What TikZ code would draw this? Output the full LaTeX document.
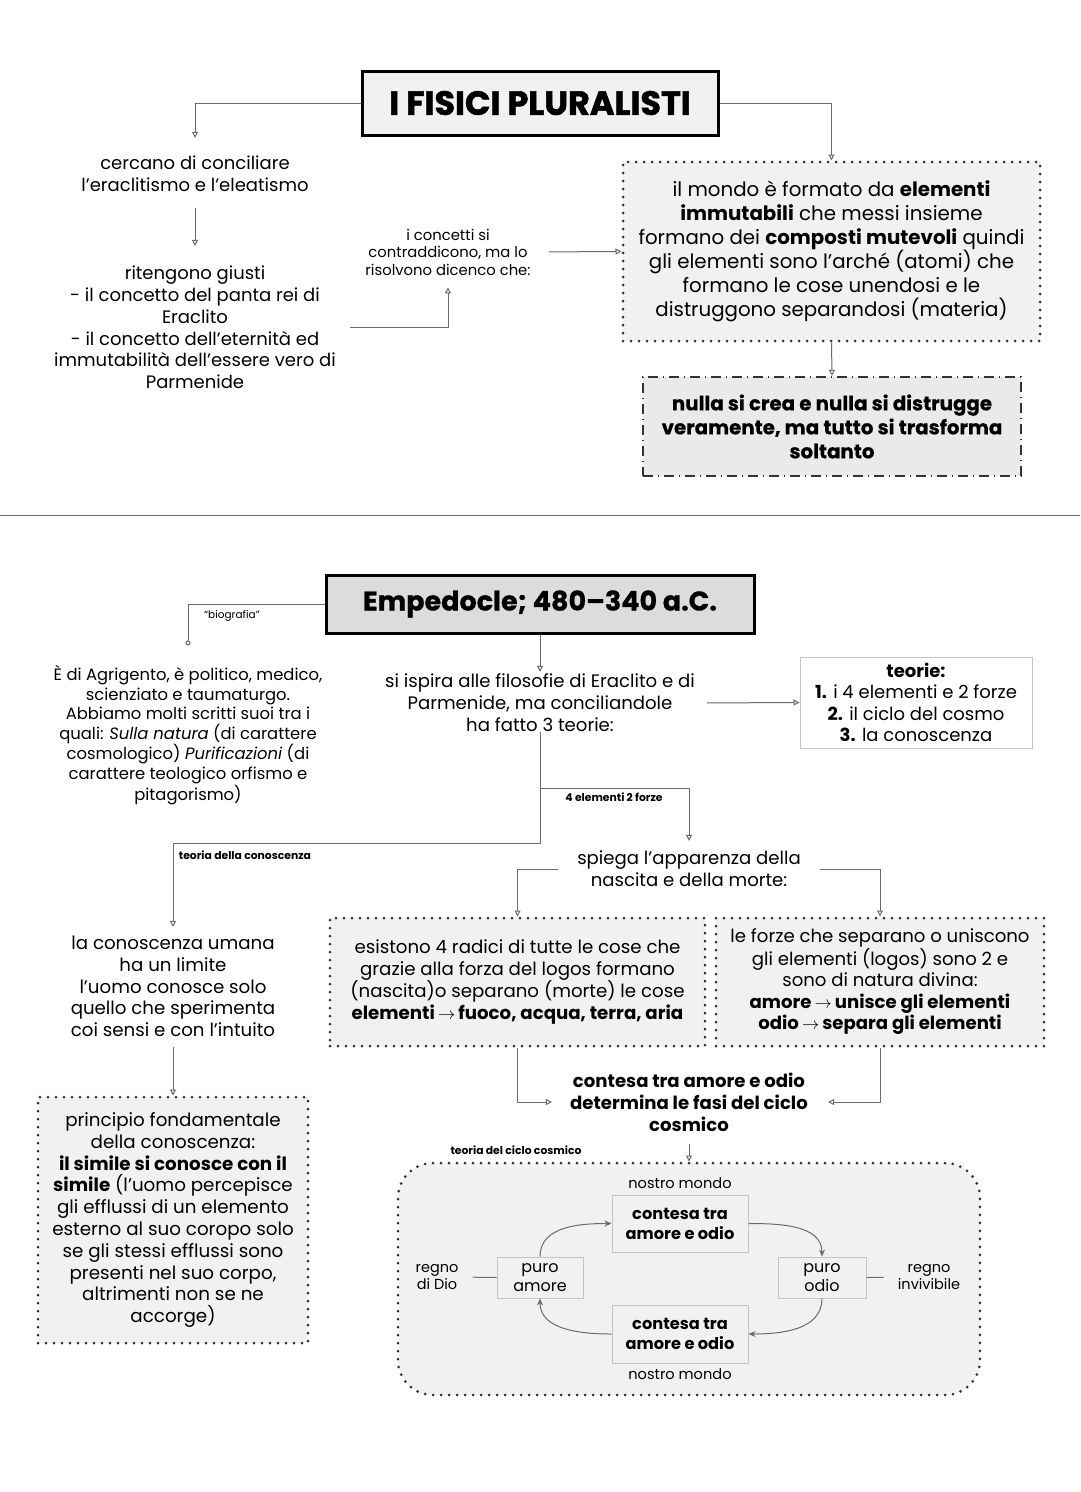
\documentclass[tikz,border=0pt]{standalone}
\usepackage{fontspec}
\setmainfont{Poppins}
\usetikzlibrary{arrows.meta,calc}
\definecolor{lg}{HTML}{6B6B6B}
\definecolor{boxfill}{HTML}{F1F1F1}
\definecolor{tfill}{HTML}{DCDCDC}
\definecolor{dotc}{HTML}{333333}
\definecolor{thin}{HTML}{C4C4C4}
\newcommand\myfs[2]{\fontsize{#1}{#2}\selectfont}
\newcommand\myto{\,$\rightarrow$\,}
\tikzset{
  txt/.style={align=center, inner sep=0pt, font=\myfs{18}{22}},
  ln/.style={draw=lg, line width=1pt},
  arr/.style={ln, -{Triangle[open,length=6pt,width=6pt]}},
  carr/.style={ln, -{Stealth[length=7pt,width=6pt]}},
  lbl/.style={inner sep=0pt, font=\bfseries\myfs{10.8}{12}},
  titlebox/.style={draw=black, line width=3pt, align=center, inner sep=0pt},
  dotbox/.style={draw=dotc, line width=3pt, dash pattern=on 0pt off 8pt, line cap=round, fill=boxfill, align=center, inner sep=0pt},
  dashdotbox/.style={draw=dotc, line width=2.2pt, dash pattern=on 10pt off 5pt on 1pt off 5pt, fill=boxfill, align=center, inner sep=0pt},
  thinbox/.style={draw=thin, line width=1pt, fill=boxfill, align=center, inner sep=0pt},
}
\begin{document}
\begin{tikzpicture}[x=1pt,y=-1pt]
\useasboundingbox[fill=white] (0,0) rectangle (1080,1492);

% ---------- top section ----------
\node[titlebox, fill=boxfill, minimum width=356, minimum height=64, font=\bfseries\myfs{33.5}{36}\addfontfeature{FakeBold=1.6}] (t1) at (540,103) {I FISICI PLURALISTI};

\node[txt, font=\myfs{18}{22}] (c1) at (195,174) {cercano di conciliare\\l’eraclitismo e l’eleatismo};

\node[txt, font=\myfs{18}{21.8}] (r1) at (195,327.5) {ritengono giusti\\- il concetto del panta rei di\\Eraclito\\- il concetto dell'eternità ed\\immutabilità dell’essere vero di\\Parmenide};

\node[txt, font=\myfs{14.8}{17.5}] (k1) at (448,252) {i concetti si\\contraddicono, ma lo\\risolvono dicenco che:};

\node[dotbox, minimum width=417, minimum height=179, font=\myfs{19.8}{24}] (m1) at (831.5,251.5) {il mondo è formato da \textbf{elementi}\\\textbf{immutabili} che messi insieme\\formano dei \textbf{composti mutevoli} quindi\\gli elementi sono l’arché (atomi) che\\formano le cose unendosi e le\\distruggono separandosi (materia)};

\node[dashdotbox, fill=boxfill!97!black, minimum width=378, minimum height=99, font=\bfseries\myfs{19.8}{24}\addfontfeature{FakeBold=0.4}] (n1) at (832,426.5) {nulla si crea e nulla si distrugge\\veramente, ma tutto si trasforma\\soltanto};

\draw[arr] (t1.west) -| (c1.north) [shorten >=18pt];
\draw[arr, shorten <=16pt, shorten >=20pt] (c1.south) -- (r1.north);
\draw[arr, shorten <=14pt, shorten >=12pt] (r1.east) -| (k1.south);
\draw[arr, shorten <=18pt] (k1.east) -- (m1.west);
\draw[arr] (t1.east) -| (m1.north);
\draw[arr] (m1.south) -- (n1.north);

% separator
\draw[lg, line width=1pt] (0,515) -- (1080,515);

% ---------- bottom section ----------
\node[titlebox, fill=tfill, minimum width=428, minimum height=58, font=\bfseries\myfs{27}{32}\addfontfeature{FakeBold=0.8}] (t2) at (540,604) {Empedocle; 480–340 a.C.};

\node[txt, font=\myfs{16.4}{19.5}] (bio) at (188,735) {È di Agrigento, è politico, medico,\\scienziato e taumaturgo.\\Abbiamo molti scritti suoi tra i\\quali: \textit{Sulla natura} (di carattere\\cosmologico) \textit{Purificazioni} (di\\carattere teologico orfismo e\\pitagorismo)};

\draw[ln, -{Circle[open,length=5pt]}, shorten >=20pt] (t2.west) -| (bio.north);
\node[lbl, font=\myfs{10.5}{12}] (lb1) at (232,616) {“biografia”};

\node[txt, font=\myfs{18.1}{22}] (s1) at (540,703) {si ispira alle filosofie di Eraclito e di\\Parmenide, ma conciliandole\\ha fatto 3 teorie:};
\draw[arr, shorten >=2pt] (t2.south) -- (s1.north);

\node[draw=thin, line width=1pt, fill=white, align=center, inner sep=0pt, minimum width=232, minimum height=91, font=\myfs{18}{21.5}] (th) at (916,702.5) {\textbf{teorie:}\\\textbf{1.} i 4 elementi e 2 forze\\\textbf{2.} il ciclo del cosmo\\\textbf{3.} la conoscenza};
\draw[arr, shorten <=12pt] (s1.east) -- (th.west);

\node[txt, font=\myfs{18.1}{22}] (sp) at (689,869) {spiega l’apparenza della\\nascita e della morte:};
\node[txt, font=\myfs{18.2}{21.8}] (kn) at (173,986.5) {la conoscenza umana\\ha un limite\\l’uomo conosce solo\\quello che sperimenta\\coi sensi e con l’intuito};

\draw[arr, shorten >=10pt] (s1.south) -- (540,788) -| (sp.north);
\node[lbl] (lb2) at (614,797) {4 elementi 2 forze};
\draw[arr, shorten >=9pt] (s1.south) -- (540,843) -| (kn.north);
\node[lbl] (lb3) at (245,855) {teoria della conoscenza};

\node[dotbox, minimum width=375, minimum height=128, font=\myfs{18.2}{21.7}] (e1) at (517.5,982) {esistono 4 radici di tutte le cose che\\grazie alla forza del logos formano\\(nascita)o separano (morte) le cose\\\textbf{elementi\myto fuoco, acqua, terra, aria}};
\node[dotbox, minimum width=328, minimum height=128, font=\myfs{18.1}{21.5}] (e2) at (880,982) {le forze che separano o uniscono\\gli elementi (logos) sono 2 e\\sono di natura divina:\\\textbf{amore\myto unisce gli elementi}\\\textbf{odio\myto separa gli elementi}};

\draw[arr, shorten <=19pt] (sp.west) -| (e1.north);
\draw[arr, shorten <=19pt] (sp.east) -| (e2.north);

\node[txt, font=\bfseries\myfs{18.1}{22}] (ca) at (689,1102) {contesa tra amore e odio\\determina le fasi del ciclo\\cosmico};
\draw[arr, shorten >=18pt] (e1.south) |- (ca.west);
\draw[arr, shorten >=20pt] (e2.south) |- (ca.east);

\node[dotbox, rounded corners=35pt, minimum width=582, minimum height=232] (cyc) at (689,1279) {};
\draw[arr, shorten <=12pt] (ca.south) -- (cyc.north);
\node[lbl] (lb4) at (516,1150) {teoria del ciclo cosmico};

\node[txt, font=\myfs{14.6}{17}] (nm1) at (680,1183) {nostro mondo};
\node[thinbox, minimum width=136, minimum height=57, font=\bfseries\myfs{16.2}{20}] (ct) at (680,1223.5) {contesa tra\\amore e odio};
\node[thinbox, minimum width=86, minimum height=41, font=\myfs{16}{19}] (pa) at (540,1277.5) {puro\\amore};
\node[thinbox, minimum width=88, minimum height=41, font=\myfs{16}{19}] (po) at (822,1277.5) {puro\\odio};
\node[thinbox, minimum width=136, minimum height=58, font=\bfseries\myfs{16.2}{20}] (cb) at (680,1334) {contesa tra\\amore e odio};
\node[txt, font=\myfs{14.6}{17}] (nm2) at (680,1374) {nostro mondo};
\node[txt, font=\myfs{14.5}{16.5}] (rd) at (437,1277) {regno\\di Dio};
\node[txt, font=\myfs{14.5}{16.5}] (ri) at (929,1277) {regno\\invivibile};

\draw[ln, shorten <=14pt] (rd.east) -- (pa.west);
\draw[ln, shorten >=14pt] (po.east) -- (ri.west);

\draw[carr] (ct.east) to[out=0, in=90] (po.north);
\draw[carr] (po.south) to[out=-90, in=0] (cb.east);
\draw[carr] (cb.west) to[out=180, in=-90] (pa.south);
\draw[carr] (pa.north) to[out=90, in=180] (ct.west);

\node[dotbox, minimum width=270, minimum height=246, font=\myfs{18.3}{21.8}] (pr) at (173,1220) {principio fondamentale\\della conoscenza:\\\textbf{il simile si conosce con il}\\\textbf{simile} (l’uomo percepisce\\gli efflussi di un elemento\\esterno al suo coropo solo\\se gli stessi efflussi sono\\presenti nel suo corpo,\\altrimenti non se ne\\accorge)};
\draw[arr, shorten <=10pt] (kn.south) -- (pr.north);
\end{tikzpicture}
\end{document}
